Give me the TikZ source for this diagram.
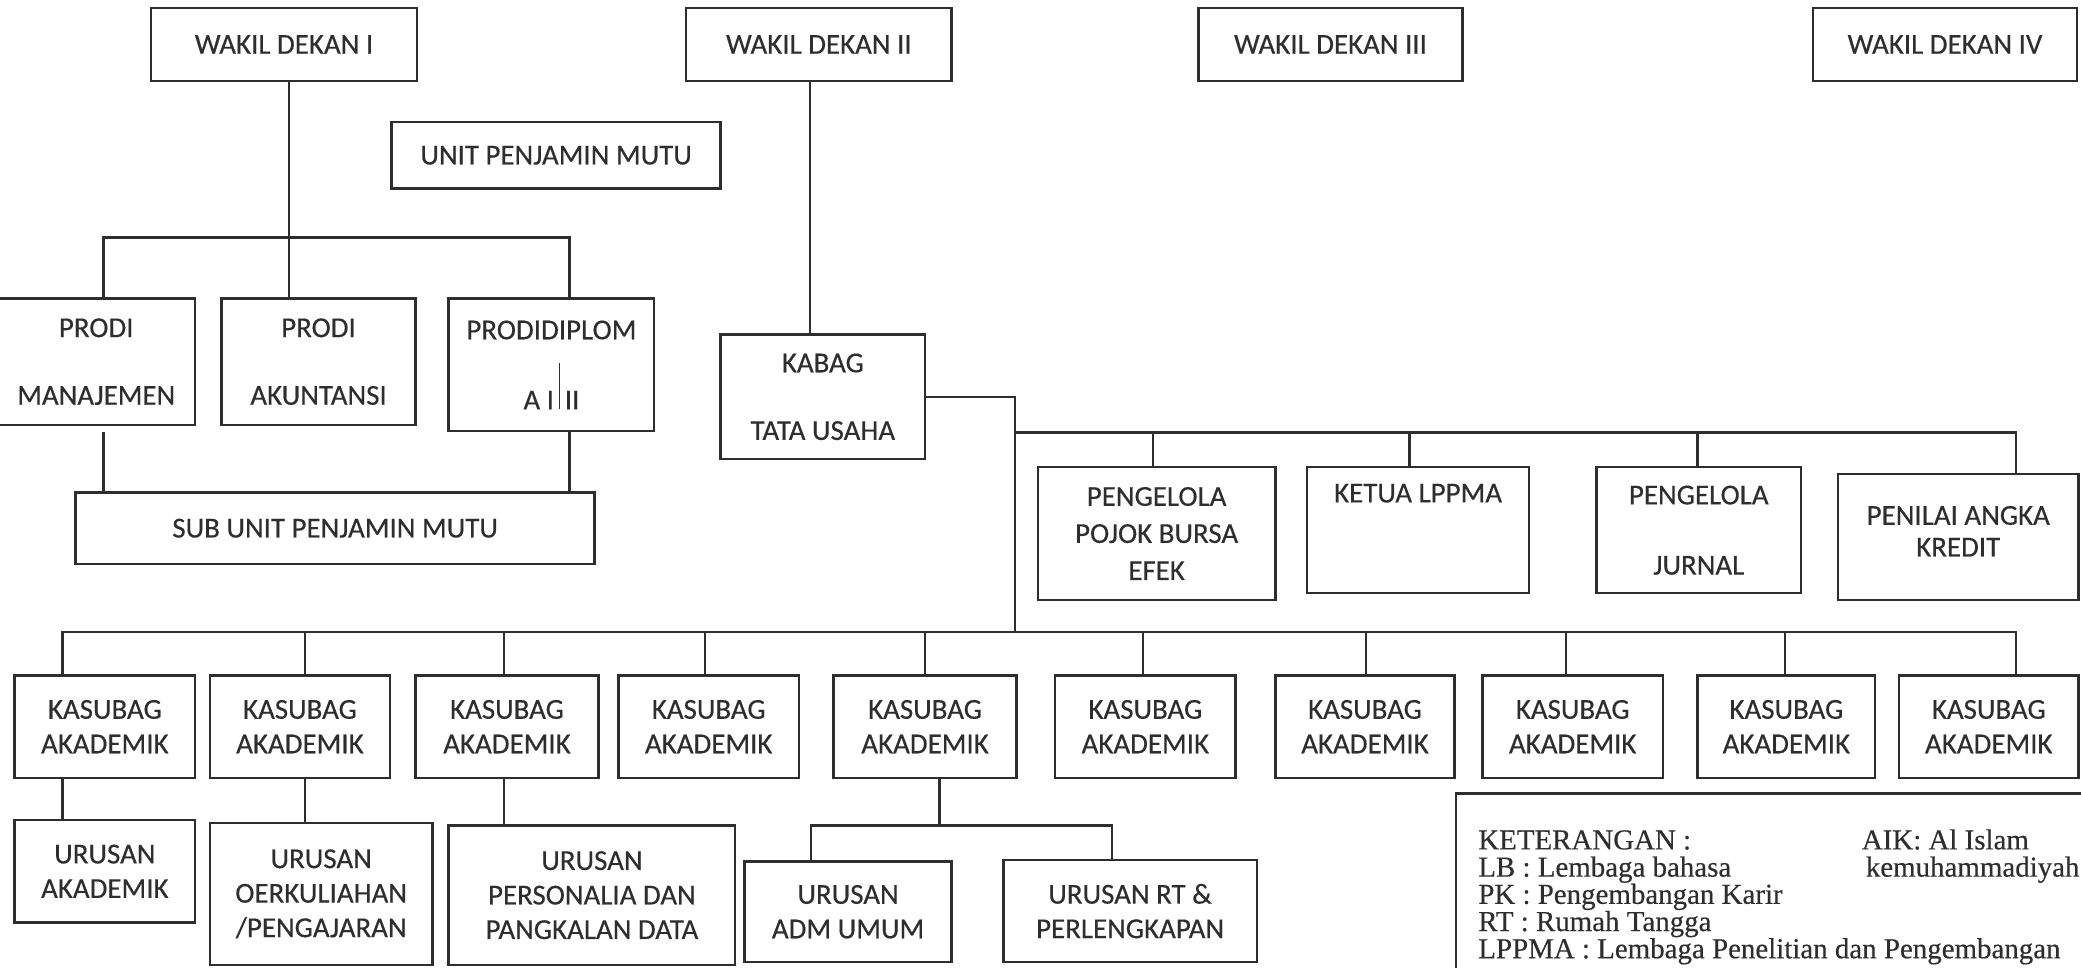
\documentclass[tikz,border=0pt]{standalone}
\usepackage{fontspec}
\setmainfont{Carlito}[FakeBold=0.4]
\newfontfamily\ketfont{Liberation Serif}[FakeBold=0.4]
\definecolor{tinta}{HTML}{2E2E2E}

\begin{document}
\begin{tikzpicture}[x=0.02cm, y=-0.02cm, line width=1pt, draw=tinta,
    kotak/.style={draw=tinta, inner sep=0pt, align=center, text=tinta,
        font=\fontsize{12.4}{14.8}\selectfont},
    ukuran/.style 2 args={minimum width=#1*0.02cm, minimum height=#2*0.02cm},
    ket/.style={inner sep=0pt, anchor=base west, text=tinta,
        font=\ketfont\fontsize{12.4}{11.6}\selectfont}]
    \useasboundingbox (0,0) rectangle (1568,729);
    % wakil dekan
    \node[kotak, ukuran={200}{55}] (wd1) at (214,33.5) {WAKIL DEKAN I};
    \node[kotak, ukuran={200}{55}] (wd2) at (617,33.5) {WAKIL DEKAN II};
    \node[kotak, ukuran={199}{55}] (wd3) at (1002.5,33.5) {WAKIL DEKAN III};
    \node[kotak, ukuran={199}{55}] (wd4) at (1465.5,33.5) {WAKIL DEKAN IV};
    \node[kotak, ukuran={248}{50}] (upm) at (419,117) {UNIT PENJAMIN MUTU};
    % prodi
    \node[kotak, ukuran={149}{95}] (pm) at (72.5,272.5) {PRODI\\[14.2pt]MANAJEMEN};
    \node[kotak, ukuran={146}{95}] (pa) at (240,272.5) {PRODI\\[14.2pt]AKUNTANSI};
    \node[kotak, ukuran={155}{100}] (pd) at (415.5,275) {PRODIDIPLOM\\[9.1pt]A I\,\rule{0.5pt}{19.9pt}\,II};
    \node[kotak, ukuran={391}{54}] (spm) at (252.5,398) {SUB UNIT PENJAMIN MUTU};
    % tata usaha
    \node[kotak, ukuran={154}{94}] (kabag) at (620,299) {KABAG\\[14.2pt]TATA USAHA};
    \node[kotak, ukuran={179}{100}] (pojok) at (871.5,402) {PENGELOLA\\[1.1pt]POJOK BURSA\\[1.1pt]EFEK};
    \node[kotak, ukuran={167}{95}] (lppma) at (1068.5,399.5) {KETUA LPPMA\\[1.1pt]\mbox{}\\[1.1pt]\mbox{}};
    \node[kotak, ukuran={154}{95}] (jurnal) at (1280,399.5) {PENGELOLA\\[15.3pt]JURNAL};
    \node[kotak, ukuran={181}{95}] (pak) at (1475.5,404.5) {PENILAI ANGKA\\[-1.2pt]KREDIT\\[-10pt]\mbox{}};
    % kasubag
    \node[kotak, ukuran={136}{77}] (k1) at (79,547.5) {KASUBAG\\AKADEMIK};
    \node[kotak, ukuran={136}{77}] (k2) at (226,547.5) {KASUBAG\\AKADEMIK};
    \node[kotak, ukuran={138}{77}] (k3) at (382,547.5) {KASUBAG\\AKADEMIK};
    \node[kotak, ukuran={136}{77}] (k4) at (534,547.5) {KASUBAG\\AKADEMIK};
    \node[kotak, ukuran={138}{77}] (k5) at (697,547.5) {KASUBAG\\AKADEMIK};
    \node[kotak, ukuran={136}{77}] (k6) at (863,547.5) {KASUBAG\\AKADEMIK};
    \node[kotak, ukuran={135}{77}] (k7) at (1028.5,547.5) {KASUBAG\\AKADEMIK};
    \node[kotak, ukuran={136}{77}] (k8) at (1185,547.5) {KASUBAG\\AKADEMIK};
    \node[kotak, ukuran={134}{77}] (k9) at (1346,547.5) {KASUBAG\\AKADEMIK};
    \node[kotak, ukuran={135}{77}] (k10) at (1498.5,547.5) {KASUBAG\\AKADEMIK};
    % urusan
    \node[kotak, ukuran={136}{77}] (u1) at (79,656.5) {URUSAN\\AKADEMIK};
    \node[kotak, ukuran={168}{107}] (u2) at (242,673.5) {URUSAN\\OERKULIAHAN\\/PENGAJARAN};
    \node[kotak, ukuran={216}{105}] (u3) at (446,674.5) {URUSAN\\PERSONALIA DAN\\PANGKALAN DATA};
    \node[kotak, ukuran={156}{76}] (u4) at (639,687) {URUSAN\\ADM UMUM};
    \node[kotak, ukuran={191}{77}] (u5) at (851.5,686.5) {URUSAN RT \&\\PERLENGKAPAN};
    % keterangan
    \node[draw=tinta, inner sep=0pt, anchor=north west, ukuran={480}{140}] (kt) at (1096,597) {};
    \node[ket] (kt1) at (1113,640) {KETERANGAN :};
    \node[ket] (kt2) at (1113,660.5) {LB : Lembaga bahasa};
    \node[ket] (kt3) at (1113,681) {PK : Pengembangan Karir};
    \node[ket] (kt4) at (1113,701.5) {RT : Rumah Tangga};
    \node[ket] (kt5) at (1113,722) {LPPMA : Lembaga Penelitian dan Pengembangan};
    \node[ket] (aik1) at (1402,640) {AIK: Al Islam};
    \node[ket] (aik2) at (1405,660.5) {kemuhammadiyah};
    % garis
    \coordinate (bar1) at (78,179);
    \coordinate (trunk) at (765,326);
    \coordinate (bar3) at (765,476);
    \coordinate (bar4) at (708,622);
    \draw (wd1.south -| 218,0) -- (pa.north -| 218,0);
    \draw (pm.north -| bar1) -- (bar1) -| (pd.north -| 429,0);
    \draw[shorten >=0.1cm] (spm.north -| bar1) -- (pm.south -| bar1);
    \draw (spm.north -| 429,0) -- (pd.south -| 429,0);
    \draw (wd2.south -| 610.5,0) -- (kabag.north -| 610.5,0);
    \draw (kabag.east) -| (bar3);
    \draw (trunk) -| (pak.north -| 1519,0);
    \draw (869,0 |- trunk) -- (pojok.north -| 869,0);
    \draw (1062,0 |- trunk) -- (lppma.north -| 1062,0);
    \draw (1279,0 |- trunk) -- (jurnal.north -| 1279,0);
    \draw (k1.north -| 47,0) |- (bar3);
    \draw (bar3) -| (k10.north -| 1519,0);
    \draw (230,0 |- bar3) -- (k2.north -| 230,0);
    \draw (380,0 |- bar3) -- (k3.north -| 380,0);
    \draw (531,0 |- bar3) -- (k4.north -| 531,0);
    \draw (697,0 |- bar3) -- (k5.north -| 697,0);
    \draw (861,0 |- bar3) -- (k6.north -| 861,0);
    \draw (1029,0 |- bar3) -- (k7.north -| 1029,0);
    \draw (1180,0 |- bar3) -- (k8.north -| 1180,0);
    \draw (1345,0 |- bar3) -- (k9.north -| 1345,0);
    \draw (k1.south -| 47,0) -- (u1.north -| 47,0);
    \draw (k2.south -| 230,0) -- (u2.north -| 230,0);
    \draw (k3.south -| 380,0) -- (u3.north -| 380,0);
    \draw (k5.south -| bar4) -- (bar4);
    \draw (u4.north -| 611,0) |- (bar4) -| (u5.north -| 838,0);
\end{tikzpicture}
\end{document}
